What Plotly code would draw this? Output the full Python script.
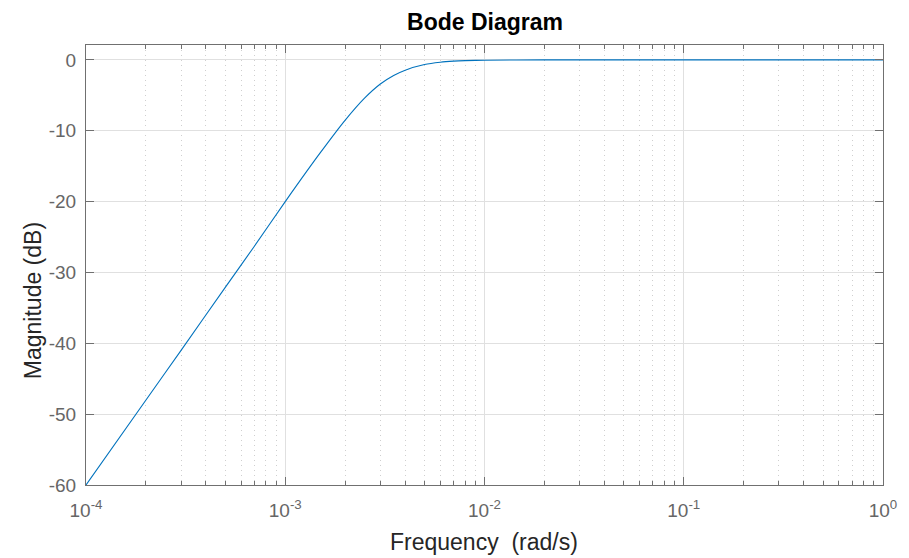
import plotly.graph_objects as go

# Values
freq_rad_s = [1e-4, 2e-4, 3e-4, 5e-4, 7e-4, 1e-3, 1.5e-3, 2e-3, 2.5e-3, 3e-3,
              3.5e-3, 4e-3, 5e-3, 6e-3, 7e-3, 8e-3, 1e-2, 2e-2, 1e-1, 1.0]
magnitude_db = [-60.0, -48.0, -41.0, -32.1, -26.3, -20.0, -13.1, -8.5, -5.4, -3.4,
                -2.2, -1.45, -0.66, -0.33, -0.18, -0.11, -0.05, 0.0, 0.0, 0.0]

x_tick_vals = [1e-4, 1e-3, 1e-2, 1e-1, 1e0]
x_tick_text = ["10<sup>-4</sup>", "10<sup>-3</sup>", "10<sup>-2</sup>", "10<sup>-1</sup>", "10<sup>0</sup>"]
x_minor_vals = [m * d for d in [1e-4, 1e-3, 1e-2, 1e-1] for m in range(2, 10)]
y_tick_vals = [0, -10, -20, -30, -40, -50, -60]
y_tick_text = ["0", "-10", "-20", "-30", "-40", "-50", "-60"]

title_text = "Bode Diagram"
x_title = "Frequency\u00a0 (rad/s)"
y_title = "Magnitude (dB)"

FONT = "Liberation Sans, Arial, Helvetica, sans-serif"
AX = "#707070"
TXT = "#666666"

fig = go.Figure()
fig.add_trace(go.Scatter(
    x=freq_rad_s, y=magnitude_db, mode="lines",
    line=dict(color="#0072BD", width=1.1, shape="spline", smoothing=0.6),
    showlegend=False, hoverinfo="x+y",
))

fig.update_layout(
    width=909, height=558,
    paper_bgcolor="white", plot_bgcolor="white",
    margin=dict(l=86, r=23, t=45, b=73),
    font=dict(family=FONT, color=TXT, size=19),
    title=dict(text="<b>" + title_text + "</b>", x=485 / 909, xanchor="center",
               y=1 - 22 / 558, yanchor="middle",
               font=dict(family=FONT, size=23, color="#000000")),
    xaxis=dict(
        type="log", range=[-4, 0],
        tickvals=x_tick_vals, ticktext=x_tick_text,
        ticks="inside", ticklen=8, tickcolor=AX,
        showline=True, linecolor=AX, linewidth=1, mirror="ticks",
        showgrid=True, gridcolor="#e0e0e0", gridwidth=1,
        zeroline=False, ticklabelstandoff=8,
        tickfont=dict(size=19, color=TXT),
        minor=dict(tickvals=x_minor_vals, ticks="inside", ticklen=4, tickcolor=AX,
                   showgrid=True, gridcolor="#cfcfcf", griddash="1px,4px", gridwidth=1),
    ),
    yaxis=dict(
        range=[-60, 2.1],
        tickvals=y_tick_vals, ticktext=y_tick_text,
        ticks="inside", ticklen=8, tickcolor=AX,
        showline=True, linecolor=AX, linewidth=1, mirror="ticks",
        showgrid=True, gridcolor="#e0e0e0", gridwidth=1,
        zeroline=False, ticklabelstandoff=5,
        tickfont=dict(size=19, color=TXT),
    ),
    annotations=[
        dict(text=y_title, xref="paper", yref="paper",
             x=(33 - 86) / 800, y=(485 - 301) / 440, xanchor="center", yanchor="middle",
             textangle=-90, showarrow=False, font=dict(family=FONT, size=23, color="#262626")),
        dict(text=x_title, xref="paper", yref="paper",
             x=(485 - 86) / 800, y=-(542 - 485) / 440, xanchor="center", yanchor="middle",
             showarrow=False, font=dict(family=FONT, size=23, color="#262626")),
    ],
)

fig.write_html("out.html", config={"displayModeBar": False})

# remove default page margin so the figure sits at the window's top-left corner
with open("out.html", "r", encoding="utf-8") as f:
    html = f.read()
html = html.replace("<head>", "<head><style>html,body{margin:0;padding:0;overflow:hidden;}</style>", 1)
with open("out.html", "w", encoding="utf-8") as f:
    f.write(html)
